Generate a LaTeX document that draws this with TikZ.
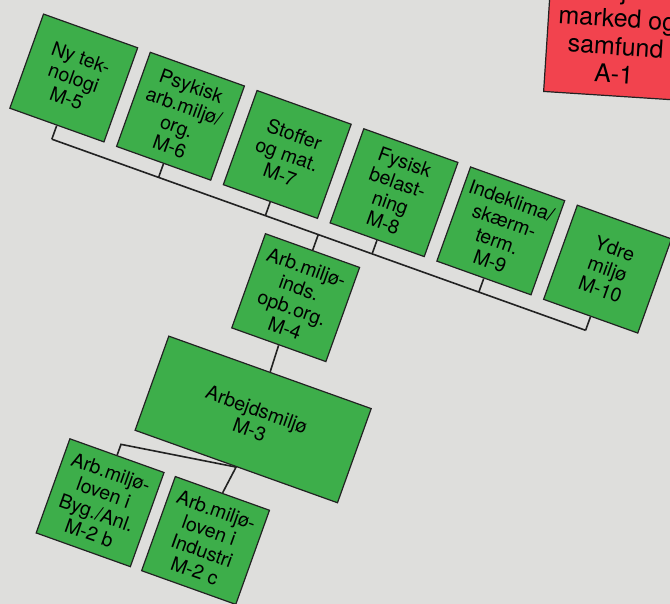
\documentclass[tikz,border=0pt]{standalone}
\usepackage{fontspec}
\setmainfont{TeX Gyre Heros}
\definecolor{paper}{HTML}{DEDEDC}
\definecolor{boxgreen}{HTML}{3DAE4A}
\definecolor{boxred}{HTML}{F2434E}
\definecolor{ink}{HTML}{222222}
\begin{document}
\begin{tikzpicture}[x=1pt,y=1pt,
  gbox/.style={draw=ink, line width=1.2pt, fill=boxgreen, minimum width=100pt,
    minimum height=100pt, inner sep=0pt, align=center,
    font=\fontsize{19.5}{21.5}\selectfont},
  rbox/.style={draw=ink, line width=1.2pt, fill=boxred, inner sep=0pt, align=center,
    font=\fontsize{25}{28}\selectfont},
  link/.style={draw=ink, line width=1.6pt}]
\useasboundingbox (0,0) rectangle (670,-604);
\fill[paper] (0,0) rectangle (670,-604);
\begin{scope}
\clip (0,0) rectangle (670,-604);
\node[rbox, rotate=-3.7, anchor=south west, minimum width=138pt, minimum height=128pt]
  (a1) at (543,-92) {miljø-\\marked og\\samfund\\A-1};
\end{scope}
\begin{scope}[shift={(73.75,-78)}, rotate=-19.7, transform shape]
 \node[gbox] (m5) at (0,0) {Ny tek-\\nologi\\M-5};
 \node[gbox] (m6) at (113.4,0) {Psykisk\\arb.miljø/\\org.\\M-6};
 \node[gbox] (m7) at (226.8,0) {Stoffer\\og mat.\\M-7};
 \node[gbox] (m8) at (340.2,0) {Fysisk\\belast-\\ning\\M-8};
 \node[gbox] (m9) at (453.6,0) {Indeklima/\\skærm-\\term.\\M-9};
 \node[gbox] (m10) at (567,0) {Ydre\\miljø\\M-10};
 \node[gbox] (m4) at (283,-132) {Arb.miljø-\\inds.\\opb.org.\\M-4};
 \node[gbox, minimum width=215pt] (m3) at (284,-261) {Arbejdsmiljø\\M-3};
 \node[gbox] (m2b) at (168,-391) {Arb.miljø-\\loven i\\Byg./Anl.\\M-2 b};
 \node[gbox] (m2c) at (280,-391) {Arb.miljø-\\loven i\\Industri\\M-2 c};
 \coordinate (b5) at (0,-65);
 \coordinate (b6) at (113.4,-65);
 \coordinate (b7) at (226.8,-65);
 \coordinate (b8) at (340.2,-65);
 \coordinate (b9) at (453.6,-65);
 \coordinate (b10) at (567,-65);
 \coordinate (b4) at (283,-65);
 \coordinate (k) at (168,-329);
 \draw[link] (b5) -- (b10);
 \foreach \i in {5,...,10} { \draw[link] (m\i.south) -- (b\i); }
 \draw[link] (b4) -- (m4.north);
 \draw[link] (m4.south) -- (m3.north);
 \draw[link] (m2b.north) -- (k) -- (m3.south) -- (m2c.north);
\end{scope}
\end{tikzpicture}
\end{document}
